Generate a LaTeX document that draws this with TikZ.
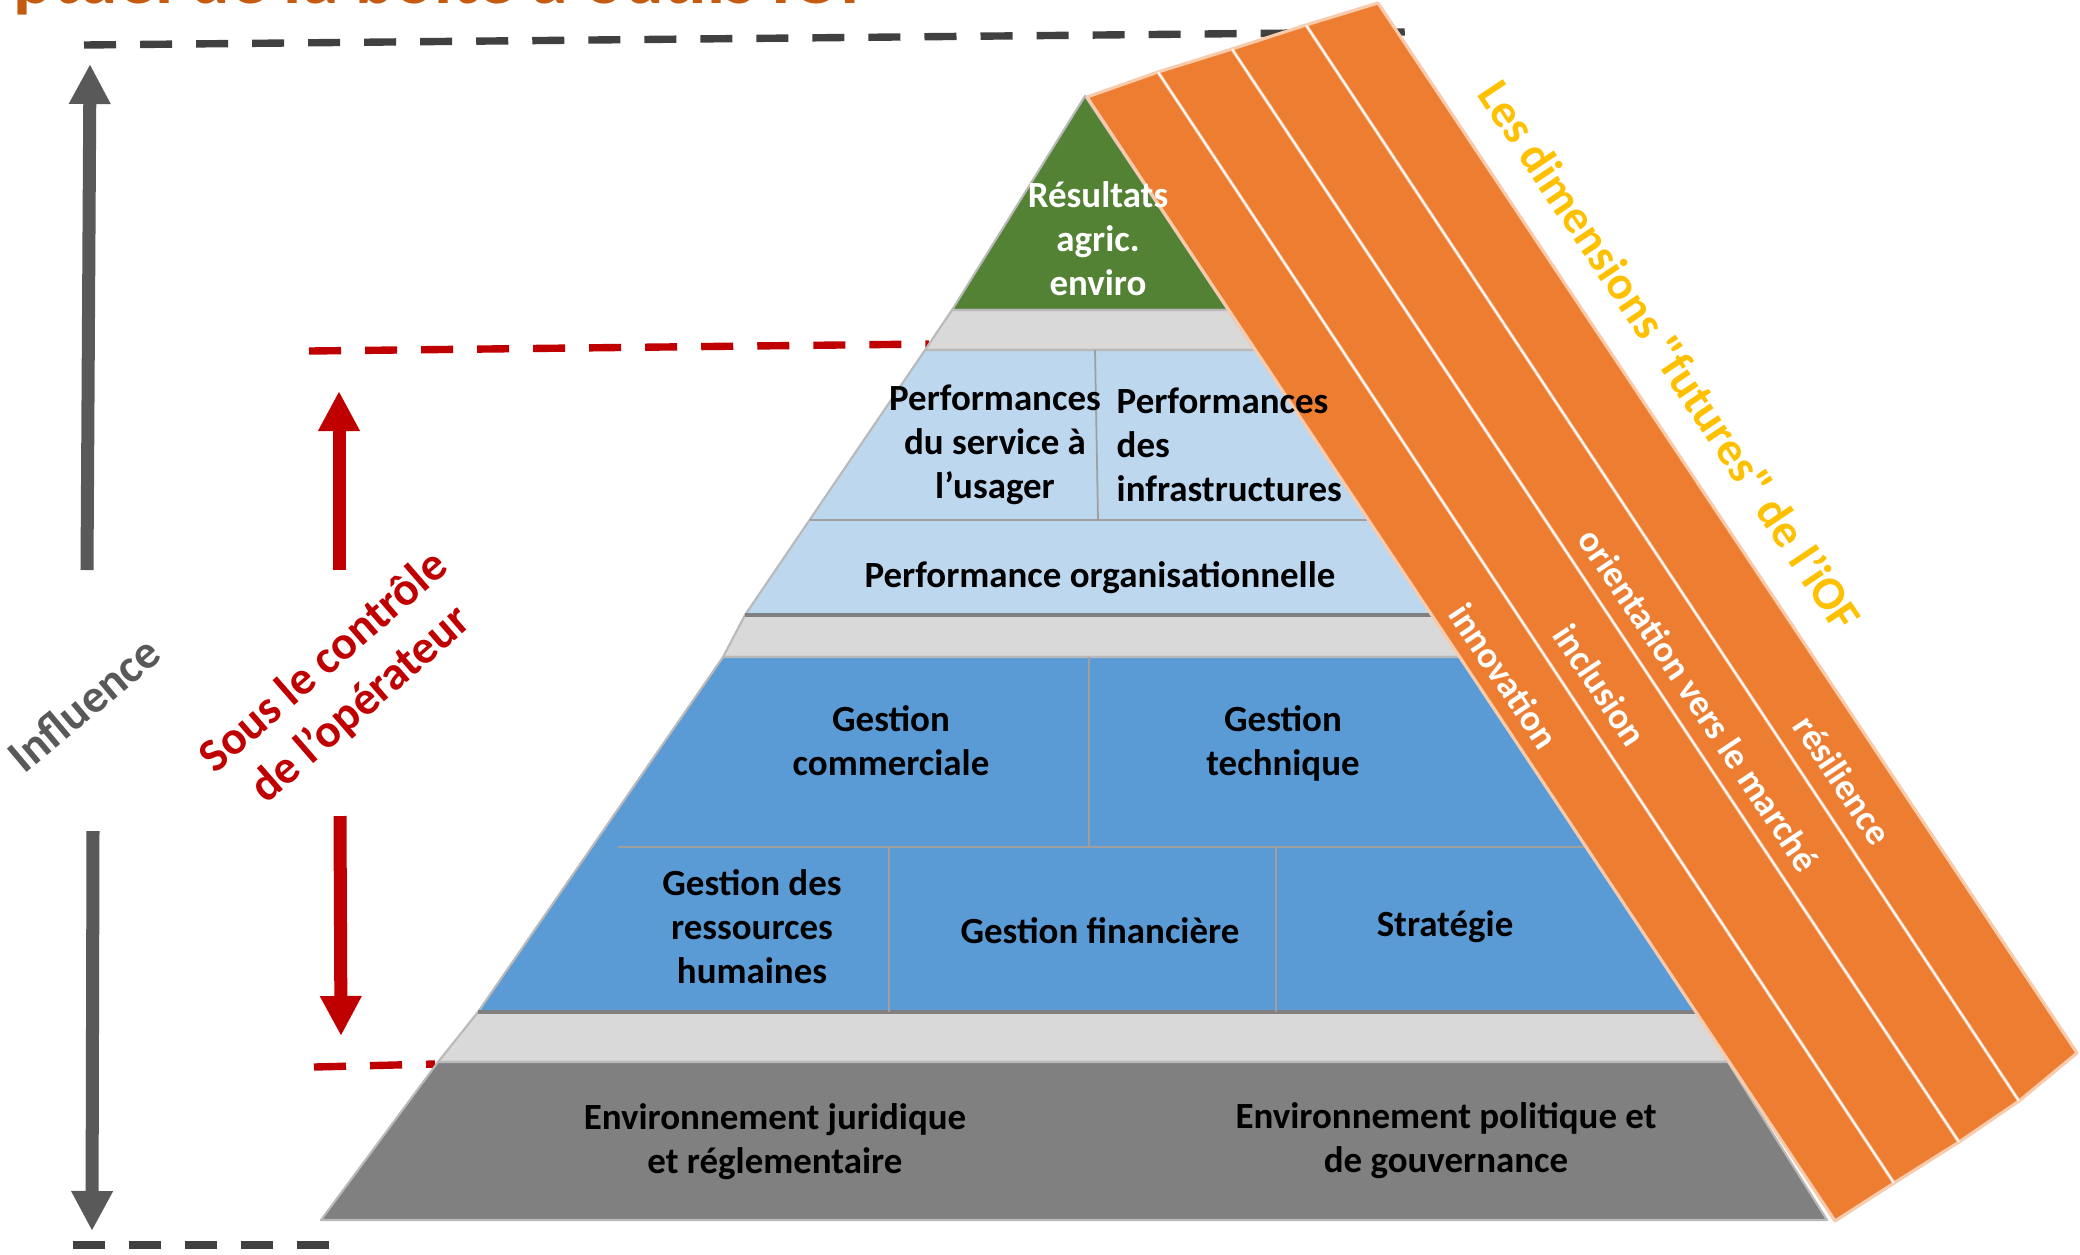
\documentclass[tikz,border=0pt]{standalone}
\usepackage{fontspec}
\setmainfont{Carlito}
\newfontfamily\plainquotes{Carlito}
\usetikzlibrary{arrows.meta}
\definecolor{resGreen}{HTML}{548235}
\definecolor{sepGray}{HTML}{D9D9D9}
\definecolor{perfBlue}{HTML}{BDD7EE}
\definecolor{gestBlue}{HTML}{5B9BD5}
\definecolor{envGray}{HTML}{808080}
\definecolor{iofOrange}{HTML}{ED7D31}
\definecolor{stripEdge}{HTML}{F8CBAD}
\definecolor{dimGold}{HTML}{FFC000}
\definecolor{ctrlRed}{HTML}{C00000}
\definecolor{inflGray}{HTML}{595959}
\definecolor{lineGray}{HTML}{404040}
\definecolor{titleOrange}{HTML}{C55A11}

\begin{document}
\begin{tikzpicture}[x=0.01cm,y=-0.01cm]
\tikzset{band/.style = {draw=gray!55, line width=0.6pt, line join=round}}
\tikzset{divider/.style = {draw=gray!75, line width=0.5pt}}
\tikzset{strip/.style = {fill=iofOrange, draw=stripEdge, line width=0.9pt, line join=round}}
\tikzset{lbl/.style = {font=\bfseries\fontsize{10.5}{12.5}\selectfont, align=center, inner sep=0pt}}
\tikzset{striplbl/.style = {lbl, text=white, rotate=-56.3}}
\tikzset{sidelbl/.style = {font=\bfseries\fontsize{13.4}{16}\selectfont, align=center, inner sep=0pt}}
\tikzset{dashline/.style = {line width=2.1pt, dash pattern=on 0.32cm off 0.24cm}}
\tikzset{bigarrow/.style = {line width=3.7pt, -{Triangle[width=0.39cm,length=0.40cm]}}}
\useasboundingbox (0,0) rectangle (2080,1254);

\node[font=\bfseries\fontsize{21}{25}\selectfont, text=titleOrange, anchor=base west, inner sep=0pt](title) at (13,3) {ptuel de la boite à outils IOF};

\coordinate (topL) at (84,45);
\coordinate (topR) at (1405,32);
\coordinate (botL) at (73,1245);
\coordinate (botR) at (329,1245);
\coordinate (ctrlTopL) at (309,351);
\coordinate (ctrlTopR) at (929,344);
\coordinate (ctrlBotL) at (314,1067);
\coordinate (ctrlBotR) at (435,1064);
\draw[dashline, lineGray] (topL) -- (topR);
\draw[dashline, lineGray] (botL) -- (botR);
\draw[dashline, ctrlRed] (ctrlTopL) -- (ctrlTopR);
\draw[dashline, ctrlRed] (ctrlBotL) -- (ctrlBotR);

\filldraw[band, fill=resGreen] (1085,96) -- (1228,310) -- (952,310) -- cycle;
\filldraw[band, fill=sepGray] (952,310) -- (1228,310) -- (1255,350) -- (925,350) -- cycle;
\filldraw[band, fill=perfBlue] (925,350) -- (1255,350) -- (1434,615) -- (745,615) -- cycle;
\filldraw[band, fill=sepGray] (745,615) -- (1434,615) -- (1460,657) -- (723,657) -- cycle;
\filldraw[band, fill=gestBlue] (723,657) -- (1460,657) -- (1700,1012) -- (478,1012) -- cycle;
\filldraw[band, fill=sepGray] (478,1012) -- (1700,1012) -- (1728,1062) -- (438,1062) -- cycle;
\filldraw[band, fill=envGray] (438,1062) -- (1728,1062) -- (1827,1220) -- (321,1220) -- cycle;
\draw[gray, line width=1.1pt] (745,615) -- (1434,615);
\draw[gray, line width=1.1pt] (478,1012) -- (1700,1012);

\draw[divider] (1095,350) -- (1098,520);
\draw[divider] (810,520) -- (1368,520);
\draw[divider] (1089,657) -- (1089,847);
\draw[divider] (618,847) -- (1586,847);
\draw[divider] (889,847) -- (889,1012);
\draw[divider] (1276,847) -- (1276,1012);

\coordinate (t0) at (1087,97);
\coordinate (t1) at (1158,72);
\coordinate (t2) at (1232,49);
\coordinate (t3) at (1306,25);
\coordinate (t4) at (1378,3);
\coordinate (b0) at (1835,1221);
\coordinate (b1) at (1894,1183);
\coordinate (b2) at (1959,1142);
\coordinate (b3) at (2019,1101);
\coordinate (b4) at (2077,1053);
\foreach \i/\j in {0/1,1/2,2/3,3/4}
  \filldraw[strip] (t\i) -- (t\j) -- (b\j) -- (b\i) -- cycle;
\foreach \i in {1,2,3}
  \draw[white, line width=0.4pt] (t\i) -- (b\i);

\node[lbl, text=white](res) at (1098,239) {Résultats\\agric.\\enviro};
\node[lbl](perfU) at (995,445) {Performances\\du service à\\l’usager};
\node[lbl, align=left, anchor=west](perfI) at (1116,445) {Performances\\des\\infrastructures};
\node[lbl](perfO) at (1100,578) {Performance organisationnelle};
\node[lbl](gestC) at (891,741) {Gestion\\commerciale};
\node[lbl](gestT) at (1283,743) {Gestion\\technique};
\node[lbl](gestRH) at (752,927) {Gestion des\\ressources\\humaines};
\node[lbl](gestF) at (1100,931) {Gestion financière};
\node[lbl](strat) at (1445,927) {Stratégie};
\node[lbl](envJ) at (775,1142) {Environnement juridique\\et réglementaire};
\node[lbl](envP) at (1446,1141) {Environnement politique et\\de gouvernance};

\node[striplbl](innov) at (1504,676) {innovation};
\node[striplbl](incl) at (1600,685) {inclusion};
\node[striplbl](orient) at (1699,700) {orientation vers le marché};
\node[striplbl](resil) at (1843,780) {résilience};
\node[inner sep=0pt, font=\plainquotes\bfseries\fontsize{13.4}{16}\selectfont, text=dimGold, rotate=-56.3](dims) at (1671,355) {Les dimensions "futures" de l’iOF};

\node[sidelbl, text=inflGray, rotate=40](infl) at (84,704) {Influence};
\node[sidelbl, text=ctrlRed, rotate=41](ctrl) at (343,684) {Sous le contrôle\\de l’opérateur};

\coordinate (inflUpS) at (87,570);
\coordinate (inflUpE) at (90,64);
\coordinate (inflDnS) at (93,831);
\coordinate (inflDnE) at (92,1231);
\coordinate (ctrlUpS) at (339,570);
\coordinate (ctrlUpE) at (339,391);
\coordinate (ctrlDnS) at (340,816);
\coordinate (ctrlDnE) at (341,1036);
\draw[bigarrow, inflGray] (inflUpS) -- (inflUpE);
\draw[bigarrow, inflGray] (inflDnS) -- (inflDnE);
\draw[bigarrow, ctrlRed] (ctrlUpS) -- (ctrlUpE);
\draw[bigarrow, ctrlRed] (ctrlDnS) -- (ctrlDnE);
\end{tikzpicture}
\end{document}
